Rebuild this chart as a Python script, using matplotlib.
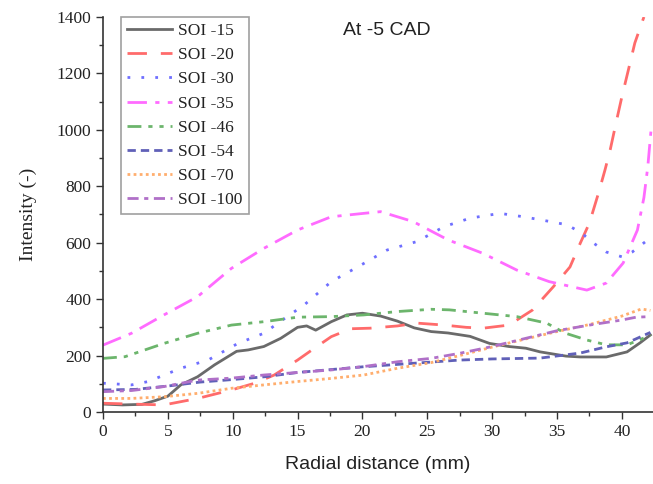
import matplotlib.pyplot as plt
from matplotlib.ticker import MultipleLocator

# radial distance (mm) and intensity for each SOI case
x15 = [0, 1.5, 3, 4, 5, 6, 7.3, 8.6, 10.3, 11.2, 12.4, 13.7, 15, 15.7, 16.4, 17.6, 18.8, 20,
       21.4, 22.7, 24, 25.3, 26.6, 28.3, 29.8, 31.3, 32.6, 33.7, 35.7, 36.8, 38.8, 40.4, 41.4, 42.2]
y15 = [28, 25, 27, 40, 56, 96, 125, 167, 215, 220, 232, 261, 300, 305, 290, 320, 344, 350,
       340, 322, 298, 285, 280, 268, 243, 232, 226, 213, 198, 195, 195, 213, 245, 273]

x20 = [0, 2.2, 4.7, 7.3, 9.9, 11.7, 13.2, 15, 16.3, 17.6, 19.1, 20.6, 22.7, 24.2, 26.3, 28,
       29.3, 31.3, 33.1, 34.7, 36, 36.8, 37.5, 38.2, 38.7, 39.1, 39.6, 40, 40.5, 41, 41.7]
y20 = [31, 28, 25, 48, 78, 102, 131, 184, 226, 267, 295, 297, 305, 315, 308, 300,
       297, 308, 361, 443, 514, 599, 670, 776, 858, 929, 1035, 1117, 1212, 1308, 1400]

x30 = [0, 2.2, 3.5, 6, 8.1, 10.4, 12.4, 14.2, 15.5, 17.6, 19.9, 21.9, 24.2, 26.3, 28.3, 30.6,
       32.4, 34.7, 35.8, 36.9, 37.8, 38.8, 40, 40.8, 41.8, 42.2]
y30 = [102, 96, 108, 155, 184, 243, 279, 338, 379, 462, 521, 574, 604, 657, 687, 704,
       692, 673, 663, 634, 599, 567, 550, 567, 603, 616]

x35 = [0, 2.2, 4.7, 7.3, 9.9, 12.4, 15, 17.6, 20.1, 21.4, 23.9, 26.6, 29.3, 31.9, 34.4, 37.3,
       38.8, 40.1, 41.2, 41.7, 42.0, 42.25]
y35 = [237, 279, 344, 409, 509, 580, 645, 692, 704, 710, 675, 610, 562, 503, 462, 432,
       457, 528, 645, 760, 870, 1000]

x46 = [0, 1.7, 4.7, 7.3, 9.9, 12.4, 15, 17.6, 20.1, 22.7, 25.3, 26.7, 29.3, 31.9, 34.2, 35.6,
       37.3, 38.8, 40.4, 41.9, 42.2]
y46 = [190, 196, 243, 279, 308, 320, 336, 338, 344, 356, 364, 362, 350, 338, 315, 280,
       255, 238, 238, 266, 273]

x54 = [0, 2.5, 5, 7.5, 10, 12.5, 15, 17.5, 20, 22.5, 25, 27.5, 30, 33.7, 36.8, 38.8, 40.4, 42.2]
y54 = [78, 80, 92, 106, 115, 125, 140, 150, 160, 168, 176, 184, 188, 191, 209, 231, 245, 282]

x70 = [0, 2.2, 4.7, 7.3, 9.9, 12.4, 15, 17.6, 20.1, 22.7, 25.3, 27.5, 30, 32.5, 35, 37.5,
       40, 41.5, 42.2]
y70 = [48, 48, 54, 66, 84, 96, 108, 119, 131, 155, 175, 200, 230, 258, 285, 310,
       340, 365, 360]

x100 = [0, 2.2, 4.7, 7.3, 9.9, 12.4, 15, 17.6, 20.1, 22.7, 25.3, 27.5, 30, 32.5, 35, 37.5,
        40, 41.1, 42.2]
y100 = [72, 76, 90, 113, 120, 131, 140, 149, 161, 178, 190, 208, 232, 260, 288, 308,
        326, 336, 338]

labels = ['SOI -15', 'SOI -20', 'SOI -30', 'SOI -35', 'SOI -46', 'SOI -54', 'SOI -70', 'SOI -100']
xs = [x15, x20, x30, x35, x46, x54, x70, x100]
ys = [y15, y20, y30, y35, y46, y54, y70, y100]
colors = ['#6a6a6a', '#ff6b6b', '#6f6fff', '#ff6bff', '#6cb56c', '#6060b8', '#ffae6e', '#b070c8']
dashes = [None, (7, 5), (1, 4), (7, 3, 1.5, 3), (5, 2.5, 1.5, 2.5, 1.5, 2.5),
          (3, 1.8), (1, 1.2), (4, 2, 1.5, 2)]

serif = 'Liberation Serif'
sans = 'Liberation Sans'

fig = plt.figure(figsize=(6.53, 4.84), dpi=100)
ax = fig.add_axes([0.1577, 0.1488, 1 - 0.1577, 0.9649 - 0.1488])

for x, y, lab, c, d in zip(xs, ys, labels, colors, dashes):
    if d is None:
        ax.plot(x, y, color=c, lw=2, label=lab)
    else:
        ax.plot(x, y, color=c, lw=2, dashes=d, label=lab)

ax.set_xlim(0, 42.4)
ax.set_ylim(0, 1400)
ax.xaxis.set_major_locator(MultipleLocator(5))
ax.xaxis.set_minor_locator(MultipleLocator(2.5))
ax.yaxis.set_major_locator(MultipleLocator(200))
ax.yaxis.set_minor_locator(MultipleLocator(100))

for s in ['top', 'right']:
    ax.spines[s].set_visible(False)
for s in ['left', 'bottom']:
    ax.spines[s].set_color('#333333')
    ax.spines[s].set_linewidth(1.2)

ax.tick_params(which='major', direction='out', length=5, width=1, color='#333333',
               labelsize=12.5, labelcolor='#222222')
ax.tick_params(which='minor', direction='out', length=3, width=1, color='#333333')
for t in ax.get_xticklabels() + ax.get_yticklabels():
    t.set_fontfamily(serif)

ax.set_xlabel('Radial distance (mm)', family=sans, fontsize=14, color='#222222', labelpad=12)
ax.set_ylabel('Intensity (-)', family=serif, fontsize=14, color='#222222', labelpad=14)

ax.text(0.516, 0.967, 'At -5 CAD', transform=ax.transAxes, family=sans, fontsize=14,
        color='#222222', ha='center', va='center')

leg = ax.legend(loc='upper left', bbox_to_anchor=(0.033, 1.0), prop={'family': serif, 'size': 12.5},
                frameon=True, fancybox=False, edgecolor='#888888', handlelength=2.6,
                handletextpad=0.35, labelspacing=0.46, borderpad=0.35, borderaxespad=0)
leg.get_frame().set_linewidth(1.2)
for t in leg.get_texts():
    t.set_color('#222222')

fig.savefig('out.png', dpi=100)
